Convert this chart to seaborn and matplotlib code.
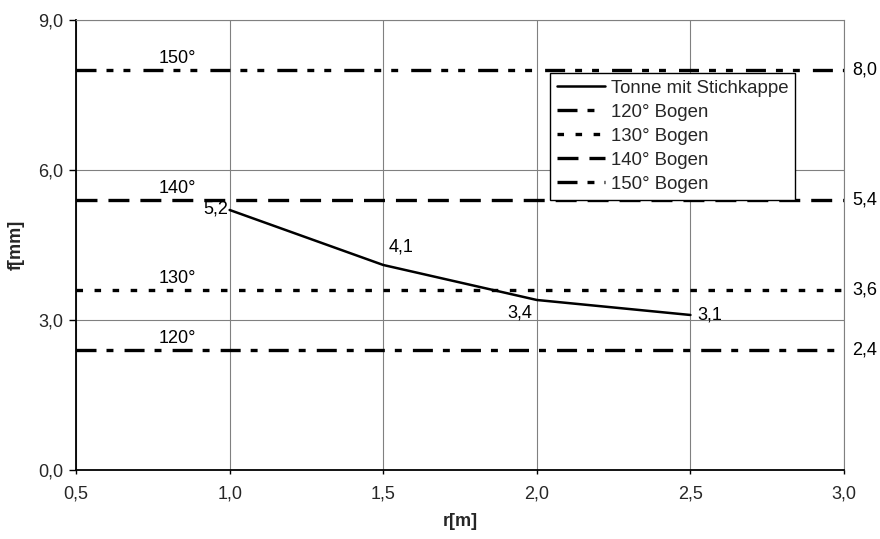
import numpy as np
import pandas as pd
import seaborn as sns
import matplotlib.pyplot as plt

# data
r_vals = [1.0, 1.5, 2.0, 2.5]
f_vals = [5.2, 4.1, 3.4, 3.1]
f_text = ["5,2", "4,1", "3,4", "3,1"]

bogen_names = ["120° Bogen", "130° Bogen", "140° Bogen", "150° Bogen"]
bogen_short = ["120°", "130°", "140°", "150°"]
bogen_vals = [2.4, 3.6, 5.4, 8.0]
bogen_text = ["2,4", "3,6", "5,4", "8,0"]

x_ticks = [0.5, 1.0, 1.5, 2.0, 2.5, 3.0]
x_labels = ["0,5", "1,0", "1,5", "2,0", "2,5", "3,0"]
y_ticks = [0.0, 3.0, 6.0, 9.0]
y_labels = ["0,0", "3,0", "6,0", "9,0"]

sns.set_theme(style="white")
plt.rcParams['font.family'] = ['Liberation Sans', 'DejaVu Sans']
plt.rcParams['lines.scale_dashes'] = False

fs = 13
fig = plt.figure(figsize=(8.8, 5.39), dpi=100)
ax = fig.add_axes([0.0864, 0.128, 0.8727, 0.835])

df = pd.DataFrame({"r": r_vals, "f": f_vals})
sns.lineplot(data=df, x="r", y="f", ax=ax, color="black", lw=1.8,
             label="Tonne mit Stichkappe", zorder=5)

# dash patterns for the horizontal reference lines (points)
dashes = {
    "120° Bogen": (14.4, 7.2, 5, 8),
    "130° Bogen": (4.7, 8.3),
    "140° Bogen": (15.1, 7.9),
    "150° Bogen": (14.4, 7.2, 5, 7.2, 5, 9.4),
}
for name, short, v, txt in zip(bogen_names, bogen_short, bogen_vals, bogen_text):
    ax.axhline(v, color="black", lw=2.4, dashes=dashes[name], label=name, zorder=4)
    ax.text(0.83, v + 0.06, short, ha="center", va="bottom", fontsize=fs, color="black")
    ax.annotate(txt, (1.0, v), xycoords=("axes fraction", "data"),
                xytext=(6, 0), textcoords="offset points",
                ha="left", va="center", fontsize=fs, color="black",
                annotation_clip=False)

# point labels
offsets = [(-1, 1, "right", "center"), (4, 7, "left", "bottom"),
           (-3, -3, "right", "top"), (5, 0, "left", "center")]
for x, y, t, (dx, dy, ha, va) in zip(r_vals, f_vals, f_text, offsets):
    ax.annotate(t, (x, y), xytext=(dx, dy), textcoords="offset points",
                ha=ha, va=va, fontsize=fs, color="black")

ax.set_xlim(0.5, 3.0)
ax.set_ylim(0.0, 9.0)
ax.set_xticks(x_ticks)
ax.set_xticklabels(x_labels, fontsize=fs)
ax.set_yticks(y_ticks)
ax.set_yticklabels(y_labels, fontsize=fs)
ax.tick_params(axis="x", length=3, width=1, color="black", pad=8, direction="out", bottom=True)
ax.tick_params(axis="y", length=5, width=1, color="black", pad=4, direction="out", left=True)

ax.grid(True, color="#808080", lw=0.8)
for s in ["left", "bottom"]:
    ax.spines[s].set_color("black")
    ax.spines[s].set_linewidth(1.3)
for s in ["top", "right"]:
    ax.spines[s].set_color("#808080")
    ax.spines[s].set_linewidth(0.8)

ax.set_xlabel("r[m]", fontsize=fs, fontweight="bold", labelpad=8)
ax.set_ylabel("f[mm]", fontsize=fs, fontweight="bold", labelpad=10)

leg = ax.legend(loc="upper right", bbox_to_anchor=(0.936, 0.882), fontsize=13.4,
                frameon=True, fancybox=False, shadow=False, handlelength=2.6,
                labelspacing=0.38, borderpad=0.35, handletextpad=0.3, borderaxespad=0)
leg.get_frame().set_edgecolor("black")
leg.get_frame().set_linewidth(1.0)
leg.get_frame().set_alpha(1)
leg.set_zorder(10)

fig.savefig("out.png", dpi=100)
